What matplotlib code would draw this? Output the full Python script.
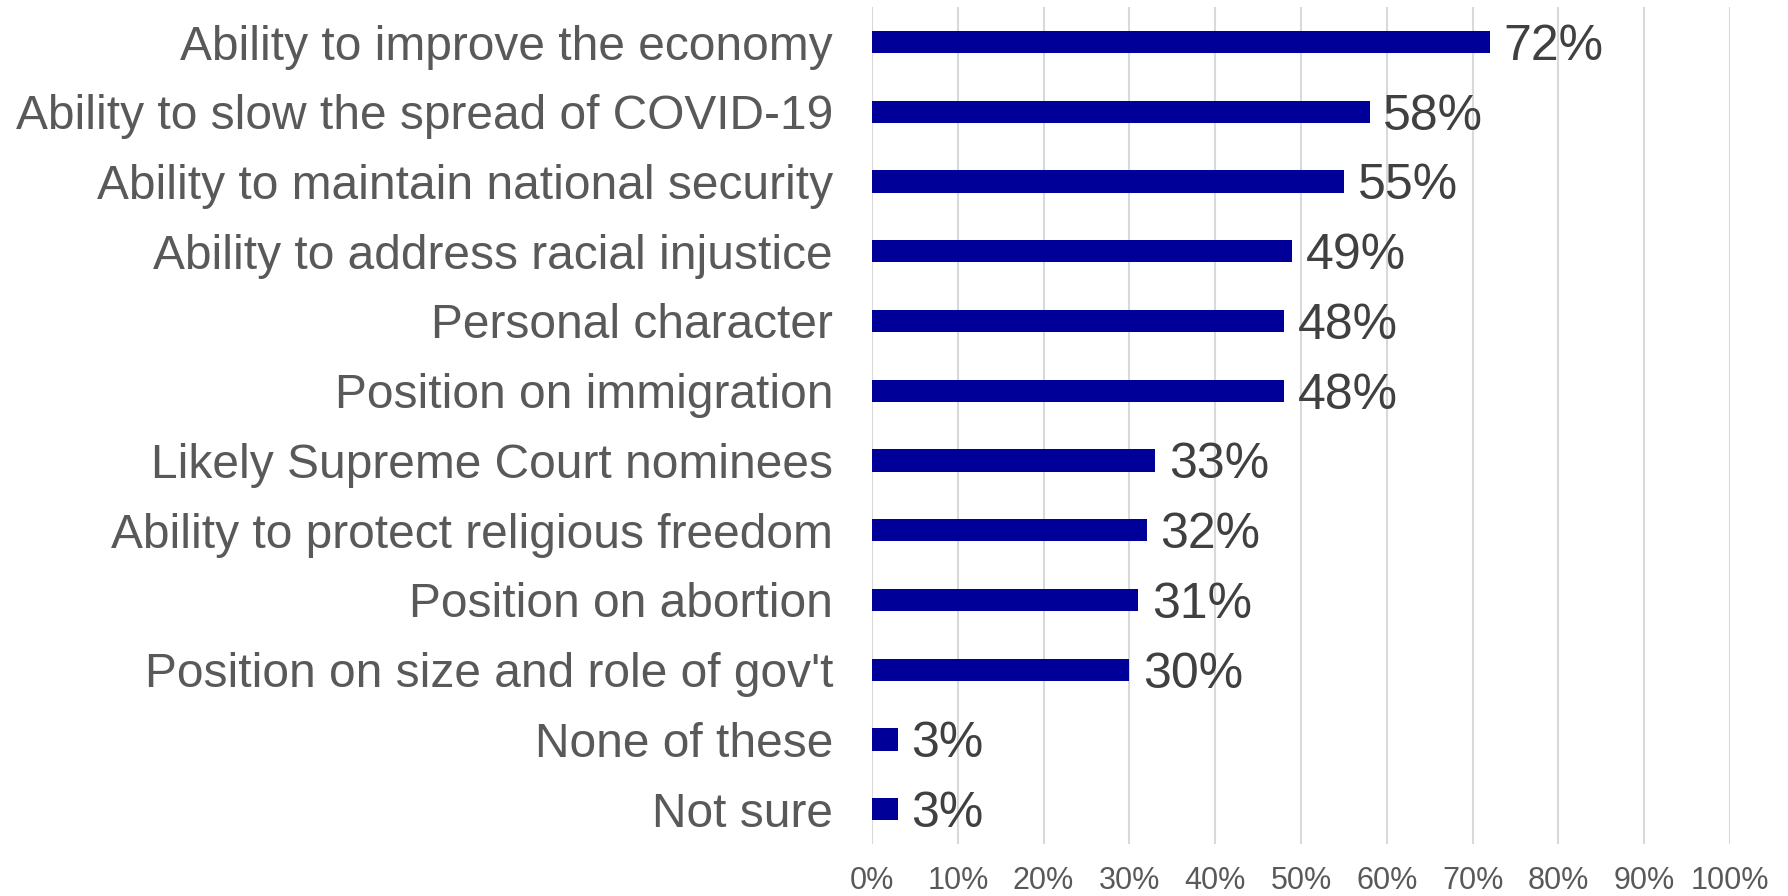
import matplotlib
matplotlib.use("Agg")
import matplotlib.pyplot as plt
import numpy as np

plt.rcParams['font.family'] = ['Liberation Sans', 'DejaVu Sans']

categories = ["Ability to improve the economy",
              "Ability to slow the spread of COVID-19",
              "Ability to maintain national security",
              "Ability to address racial injustice",
              "Personal character",
              "Position on immigration",
              "Likely Supreme Court nominees",
              "Ability to protect religious freedom",
              "Position on abortion",
              "Position on size and role of gov't",
              "None of these",
              "Not sure"]
values = [72, 58, 55, 49, 48, 48, 33, 32, 31, 30, 3, 3]
ticks = list(range(0, 101, 10))
tick_labels = ["%d%%" % t for t in ticks]

fig = plt.figure(figsize=(17.88, 8.96), dpi=100)
ax = fig.add_axes([0.4877, 0.058, 0.4799, 0.934])

y = np.arange(len(categories))
ax.barh(y, values, height=0.32, color='#000099', zorder=3)
for yi, v in zip(y, values):
    ax.text(v + 1.6, yi + 0.07, "%d%%" % v, va='center', ha='left',
            fontsize=36, color='#404040')

ax.set_xlim(0, 100)
ax.set_ylim(len(categories) - 0.5, -0.5)
ax.set_xticks(ticks)
ax.set_xticklabels(tick_labels, fontsize=22, color='#595959')
ax.set_yticks(y)
ax.set_yticklabels(categories, fontsize=34.5, color='#595959')
ax.tick_params(length=0)
ax.tick_params(axis='y', pad=28)
ax.tick_params(axis='x', pad=16)
ax.xaxis.grid(True, color='#d9d9d9', linewidth=1.5, zorder=0)
for s in ax.spines.values():
    s.set_visible(False)

fig.savefig('out.png', dpi=100)
